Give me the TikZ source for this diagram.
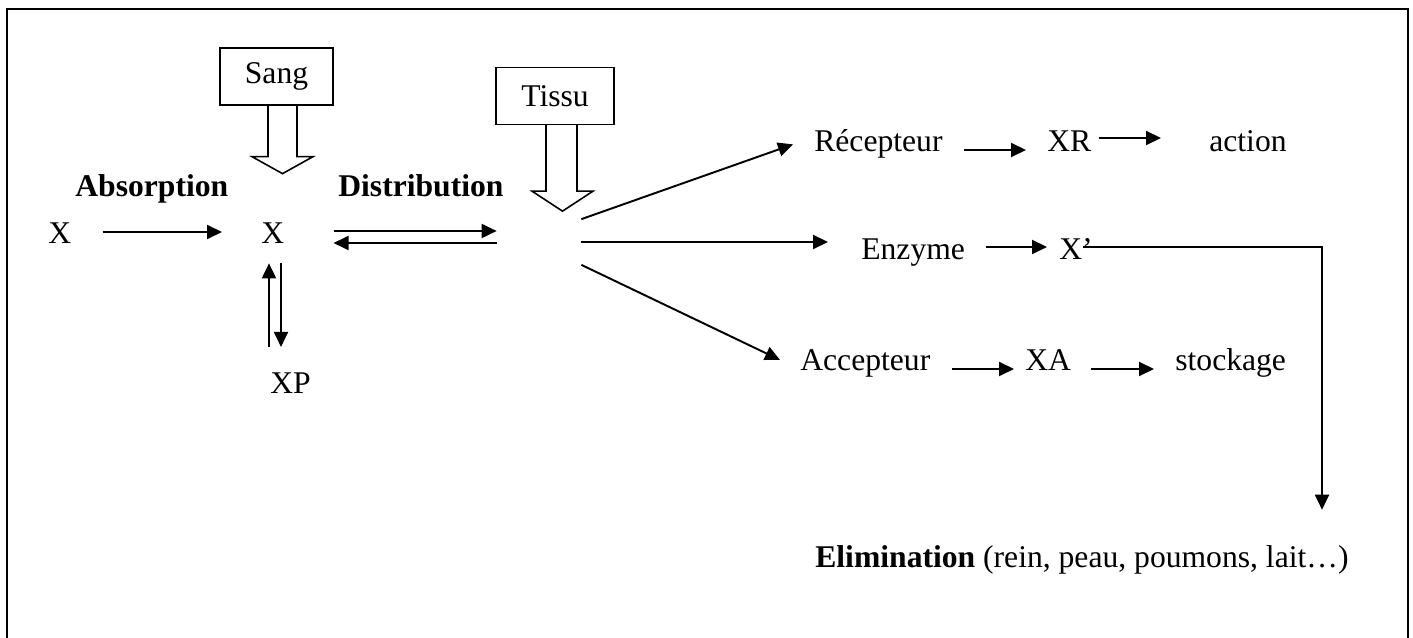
\documentclass[tikz,border=0pt]{standalone}
\usepackage{fontspec}
\setmainfont{Liberation Serif}
\usetikzlibrary{arrows.meta}

\begin{document}
\begin{tikzpicture}[x=0.02cm, y=-0.02cm, font=\fontsize{18}{21}\selectfont]
      \tikzset{
        lbl/.style={inner sep=0pt, anchor=base west},
        comptbox/.style={
          draw=black, line width=0.75pt, minimum width=2.26cm, minimum height=1.14cm,
          inner sep=0pt
        },
        arr/.style={line width=1.1pt, -{Triangle[length=0.3cm, width=0.28cm]}},
        hollow/.style={draw=black, line width=0.9pt}
      }
      \useasboundingbox (0,0) rectangle (1413,638);
      \draw[line width=1.2pt] (7,9) rectangle (1408,680);
      % compartiments
      \node[comptbox] (sang) at (276.5,76.5) {Sang};
      \node[comptbox, minimum width=2.36cm] (tissu) at (555,96) {Tissu\hspace{0.4cm}};
      \node[inner sep=0pt, minimum width=1.68cm, minimum height=0.9cm] (comp) at (539,242) {};
      % textes
      \node[lbl] (absorb) at (75,197) {\textbf{Absorption}};
      \node[lbl] (distrib) at (338,197) {\textbf{Distribution}};
      \node[lbl] (x1) at (48,244) {X};
      \node[lbl] (x2) at (261,244) {X};
      \node[lbl] (xp) at (270,394) {XP};
      \node[lbl] (rec) at (814,152) {Récepteur};
      \node[lbl] (xr) at (1047,152) {XR};
      \node[lbl] (action) at (1209,152) {action};
      \node[lbl] (enz) at (861,260) {Enzyme};
      \node[lbl] (xprime) at (1059,260) {X’};
      \node[lbl] (acc) at (800,371) {Accepteur};
      \node[lbl] (xa) at (1025,371) {XA};
      \node[lbl] (stock) at (1175,371) {stockage};
      \node[lbl] (elim) at (815,567) {\textbf{Elimination} (rein, peau, poumons, lait…)};
      % fleches creuses
      \draw[hollow] (sang.south) ++(-8.5,0) -- ++(0,51) -- ++(-16,0) -- ++(30.5,17)
        -- ++(30.5,-17) -- ++(-16,0) -- ++(0,-51);
      \draw[hollow] (tissu.south) ++(-9,0) -- ++(0,66) -- ++(-14,0) -- ++(30.5,20)
        -- ++(30.5,-20) -- ++(-16,0) -- ++(0,-66);
      % absorption, distribution
      \draw[arr, shorten <=0.62cm, shorten >=0.78cm] (x1.east |- 0,232) -- (x2.west |- 0,232);
      \draw[arr, shorten <=0.98cm] (x2.east |- 0,231) -- (comp.west |- 0,231);
      \draw[arr, shorten >=0.98cm] (comp.west |- 0,243) -- (x2.east |- 0,243);
      \draw[arr, shorten <=0.52cm, shorten >=0.38cm] (xp.north -| 269,0) -- (x2.south -| 269,0);
      \draw[arr, shorten <=0.38cm, shorten >=0.52cm] (x2.south -| 281,0) -- (xp.north -| 281,0);
      % devenir dans le tissu
      \draw[arr] (comp.north east) -- ([xshift=-0.42cm]rec.west);
      \draw[arr, shorten >=0.66cm] (comp.east) -- (comp.east -| enz.west);
      \draw[arr] (comp.south east) -- ([xshift=-0.4cm, yshift=0.08cm]acc.west);
      \draw[arr, shorten <=0.42cm, shorten >=0.42cm] (rec.east |- 0,150) -- (xr.west |- 0,150);
      \draw[arr, shorten <=0.14cm, shorten >=0.96cm] (xr.east |- 0,138) -- (action.west |- 0,138);
      \draw[arr, shorten <=0.42cm, shorten >=0.24cm] (enz.east |- 0,247) -- (xprime.west |- 0,247);
      \draw[arr, shorten <=0.42cm, shorten >=0.22cm] (acc.east |- 0,369) -- (xa.west |- 0,369);
      \draw[arr, shorten <=0.4cm, shorten >=0.42cm] (xa.east |- 0,369) -- (stock.west |- 0,369);
      % elimination
      \draw[arr, shorten <=-0.2cm, shorten >=0.7cm] (xprime.east |- 0,247) -| (elim.north -| 1322,0);
    \end{tikzpicture}
\end{document}
